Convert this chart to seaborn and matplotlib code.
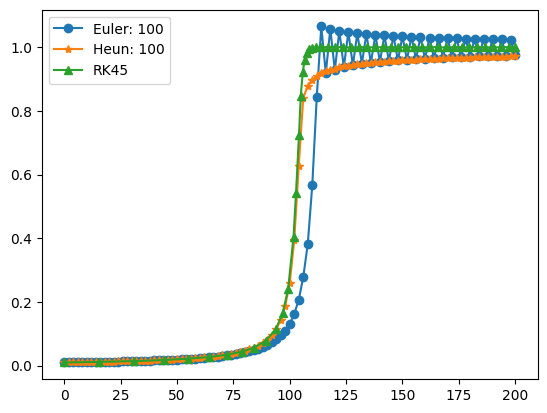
import matplotlib
matplotlib.use("Agg")
import matplotlib.pyplot as plt
import seaborn as sns

# time grid for the fixed-step solvers (100 steps on [0, 200])
t_fixed = list(range(0, 201, 2))

euler_y = [
    0.0100, 0.0102, 0.0104, 0.0106, 0.0108, 0.0111, 0.0113, 0.0116, 0.0118, 0.0121,
    0.0124, 0.0127, 0.0130, 0.0134, 0.0137, 0.0141, 0.0145, 0.0149, 0.0153, 0.0158,
    0.0163, 0.0168, 0.0174, 0.0180, 0.0186, 0.0192, 0.0200, 0.0207, 0.0215, 0.0224,
    0.0234, 0.0245, 0.0257, 0.0270, 0.0285, 0.0302, 0.0320, 0.0340, 0.0362, 0.0387,
    0.0416, 0.0449, 0.0488, 0.0533, 0.0587, 0.0652, 0.0732, 0.0830, 0.0955, 0.1100,
    0.131, 0.162, 0.207, 0.278, 0.382, 0.566, 0.845,
    1.065, 0.918, 1.058, 0.928, 1.052, 0.937, 1.048, 0.943, 1.044, 0.948,
    1.042, 0.951, 1.039, 0.954, 1.037, 0.957, 1.036, 0.959, 1.034, 0.961,
    1.033, 0.963, 1.032, 0.964, 1.030, 0.966, 1.030, 0.967, 1.029, 0.968,
    1.028, 0.969, 1.027, 0.970, 1.026, 0.971, 1.026, 0.972, 1.025, 0.972,
    1.025, 0.973, 1.024, 0.974,
]

heun_y = [
    0.0100, 0.0102, 0.0104, 0.0106, 0.0108, 0.0111, 0.0113, 0.0116, 0.0119, 0.0122,
    0.0125, 0.0128, 0.0131, 0.0135, 0.0138, 0.0142, 0.0146, 0.0151, 0.0155, 0.0160,
    0.0165, 0.0171, 0.0177, 0.0183, 0.0190, 0.0197, 0.0205, 0.0214, 0.0223, 0.0233,
    0.0245, 0.0257, 0.0271, 0.0286, 0.0302, 0.0321, 0.0343, 0.0367, 0.0395, 0.0427,
    0.0463, 0.0508, 0.0561, 0.0627, 0.0709, 0.0815, 0.0956, 0.115, 0.143, 0.187,
    0.260, 0.393, 0.628, 0.841, 0.879, 0.897, 0.909, 0.918, 0.924,
    0.929, 0.933, 0.937, 0.940, 0.942, 0.944, 0.946, 0.948, 0.949, 0.951,
    0.952, 0.953, 0.955, 0.956, 0.957, 0.958, 0.959, 0.959, 0.960, 0.961,
    0.962, 0.962, 0.963, 0.963, 0.964, 0.965, 0.965, 0.966, 0.966, 0.967,
    0.967, 0.967, 0.968, 0.968, 0.969, 0.969, 0.969, 0.970, 0.970, 0.970,
    0.971, 0.971,
]

# adaptive steps of the RK45 solver
rk45_t = [
    0.0, 15.5, 31.0, 44.3, 54.7, 64.3, 72.4, 79.0, 84.2, 89.4,
    93.8, 96.9, 99.3, 101.7, 102.8, 104.1, 104.9, 105.8, 106.6, 107.5,
    108.6, 110.0, 111.7, 113.9, 116.8, 120.2,
    123.7, 127.2, 130.7, 134.2, 137.7, 141.2, 144.7, 148.2, 151.7, 155.2,
    158.7, 162.2, 165.7, 169.2, 172.7, 176.2, 179.7, 183.2, 186.7, 190.2,
    193.7, 197.2, 200.0,
]
rk45_y = [
    0.0100, 0.0118, 0.0144, 0.0178, 0.0217, 0.0272, 0.0346, 0.0443, 0.0568, 0.0785,
    0.114, 0.165, 0.241, 0.405, 0.543, 0.723, 0.847, 0.922, 0.959, 0.983,
    0.993, 0.998, 0.999, 1.000, 1.000, 1.000,
    1.000, 0.999, 1.000, 1.000, 0.999, 1.000, 1.000, 0.999, 1.000, 1.000,
    0.999, 1.000, 1.000, 0.999, 1.000, 1.000, 0.999, 1.000, 1.000, 0.999,
    1.000, 1.000, 0.999,
]

colors = sns.color_palette("tab10")

fig, ax = plt.subplots(figsize=(6.4, 4.8), dpi=100)

sns.lineplot(x=t_fixed, y=euler_y, marker="o", color=colors[0], label="Euler: 100",
             markeredgecolor=colors[0], markeredgewidth=1.0, ax=ax)
sns.lineplot(x=t_fixed, y=heun_y, marker="*", color=colors[1], label="Heun: 100",
             markeredgecolor=colors[1], markeredgewidth=1.0, ax=ax)
sns.lineplot(x=rk45_t, y=rk45_y, marker="^", color=colors[2], label="RK45",
             markeredgecolor=colors[2], markeredgewidth=1.0, ax=ax)

ax.legend(loc="upper left")

fig.savefig("out.png", dpi=100, bbox_inches="tight")
